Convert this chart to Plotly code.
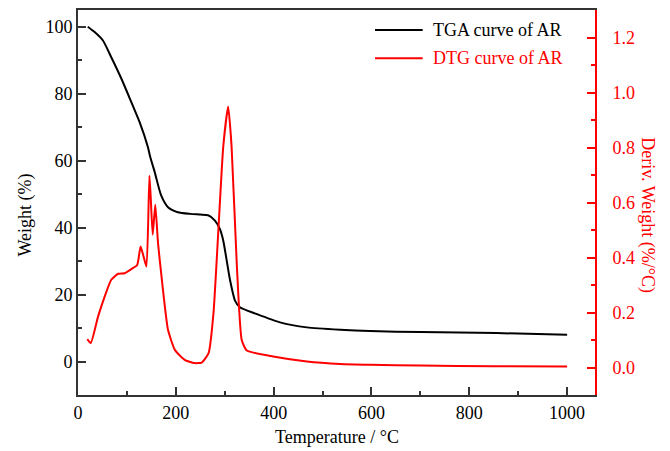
import plotly.graph_objects as go

# TGA curve (Weight %)
tga_temp = [20, 34, 51, 68, 89, 109, 126, 143, 147, 157, 170, 184, 204, 229, 250, 266,
            280, 290, 297, 304, 311, 321, 331, 365, 413, 468, 536, 597, 700, 856, 1000]
tga_weight = [100, 98.4, 95.9, 90.9, 84.4, 77.5, 71.5, 64, 61.5, 56.5, 49.6, 46.1, 44.6,
              44.1, 43.9, 43.7, 42.1, 39.6, 36.1, 30.2, 24.2, 18.2, 16.2, 14.2, 11.7,
              10.2, 9.5, 9.1, 8.8, 8.5, 8.0]

# DTG curve (Deriv. Weight %/°C)
dtg_temp = [19, 26, 41, 54.5, 68, 82, 95.5, 109, 121, 128, 134, 140, 146, 148.6, 152.7,
            158, 163.6, 170, 176, 184, 198, 218, 238, 253, 267, 277, 287, 297, 307, 314,
            324.5, 334.7, 345, 399, 468, 536, 597, 700, 850, 1000]
dtg_deriv = [0.103, 0.089, 0.185, 0.258, 0.319, 0.341, 0.343, 0.358, 0.373, 0.44, 0.404,
             0.367, 0.697, 0.622, 0.483, 0.592, 0.452, 0.343, 0.246, 0.137, 0.064, 0.028,
             0.016, 0.018, 0.052, 0.198, 0.50, 0.804, 0.949, 0.804, 0.38, 0.10, 0.062,
             0.04, 0.022, 0.013, 0.010, 0.007, 0.005, 0.004]

x_ticks = [0, 200, 400, 600, 800, 1000]
y_ticks = [0, 20, 40, 60, 80, 100]
y2_ticks = [0.0, 0.2, 0.4, 0.6, 0.8, 1.0, 1.2]
y2_labels = ["0.0", "0.2", "0.4", "0.6", "0.8", "1.0", "1.2"]

FONT = "Liberation Serif, Times New Roman, Times, serif"
AXC = "#333333"
FS = 18

fig = go.Figure()
fig.add_trace(go.Scatter(x=tga_temp, y=tga_weight, mode="lines", name="TGA curve of AR",
                         line=dict(color="black", width=2, shape="spline", smoothing=0.6),
                         showlegend=False))
fig.add_trace(go.Scatter(x=dtg_temp, y=dtg_deriv, mode="lines", name="DTG curve of AR",
                         yaxis="y2",
                         line=dict(color="#ff0000", width=2, shape="spline", smoothing=0.5),
                         showlegend=False))

fig.update_layout(
    width=670, height=451,
    margin=dict(l=78, r=75, t=10, b=56, autoexpand=False),
    paper_bgcolor="white", plot_bgcolor="white",
    font=dict(family=FONT, size=FS, color="black"),
    xaxis=dict(range=[0, 1057], tickvals=x_ticks, ticks="inside", ticklen=8, tickwidth=1.5,
               tickcolor=AXC, showline=True, linecolor=AXC, linewidth=2, mirror=True,
               showgrid=False, zeroline=False, automargin=False,
               minor=dict(dtick=100, tick0=0, ticks="inside", ticklen=4, tickcolor=AXC,
                          tickwidth=1.5, showgrid=False),
               tickfont=dict(family=FONT, size=FS, color="black")),
    yaxis=dict(range=[-10, 105], tickvals=y_ticks, ticks="inside", ticklen=8, tickwidth=1.5,
               tickcolor=AXC, showline=True, linecolor=AXC, linewidth=2, mirror=False,
               showgrid=False, zeroline=False, automargin=False,
               minor=dict(dtick=10, tick0=0, ticks="inside", ticklen=4, tickcolor=AXC,
                          tickwidth=1.5, showgrid=False),
               tickfont=dict(family=FONT, size=FS, color="black")),
    yaxis2=dict(range=[-0.1, 1.3], overlaying="y", side="right", tickvals=y2_ticks,
                ticktext=y2_labels, ticks="inside", ticklen=8, tickwidth=1.5,
                tickcolor="#ff0000", showline=True, linecolor="#ff0000", linewidth=2,
                showgrid=False, zeroline=False, ticklabelstandoff=12, automargin=False,
                minor=dict(dtick=0.1, tick0=0, ticks="inside", ticklen=4,
                           tickcolor="#ff0000", tickwidth=1.5, showgrid=False),
                tickfont=dict(family=FONT, size=FS, color="#ff0000")),
)

# Axis titles
fig.add_annotation(text="Temperature / °C", xref="paper", yref="paper", x=0.5, y=-0.11,
                   yanchor="middle", showarrow=False, font=dict(family=FONT, size=FS))
fig.add_annotation(text="Weight (%)", xref="paper", yref="paper", x=-0.102, y=0.467,
                   xanchor="center", yanchor="middle", textangle=-90, showarrow=False,
                   font=dict(family=FONT, size=FS))
fig.add_annotation(text="Deriv. Weight (%/°C)", xref="paper", yref="paper", x=1.1025,
                   y=0.467, xanchor="center", yanchor="middle", textangle=90,
                   showarrow=False, font=dict(family=FONT, size=FS, color="#ff0000"))

# Legend (manual)
leg = [("TGA curve of AR", "black", 0.948), ("DTG curve of AR", "#ff0000", 0.8745)]
for name, col, yy in leg:
    fig.add_shape(type="line", xref="paper", yref="paper", x0=0.5745, x1=0.6667,
                  y0=yy, y1=yy, line=dict(color=col, width=2))
    fig.add_annotation(text=name, xref="paper", yref="paper", x=0.6828, y=yy,
                       xanchor="left", yanchor="middle", showarrow=False,
                       font=dict(family=FONT, size=18, color=col))

fig.write_html("out.html", config={"displayModeBar": False},
               post_script="document.body.style.margin='0';")
